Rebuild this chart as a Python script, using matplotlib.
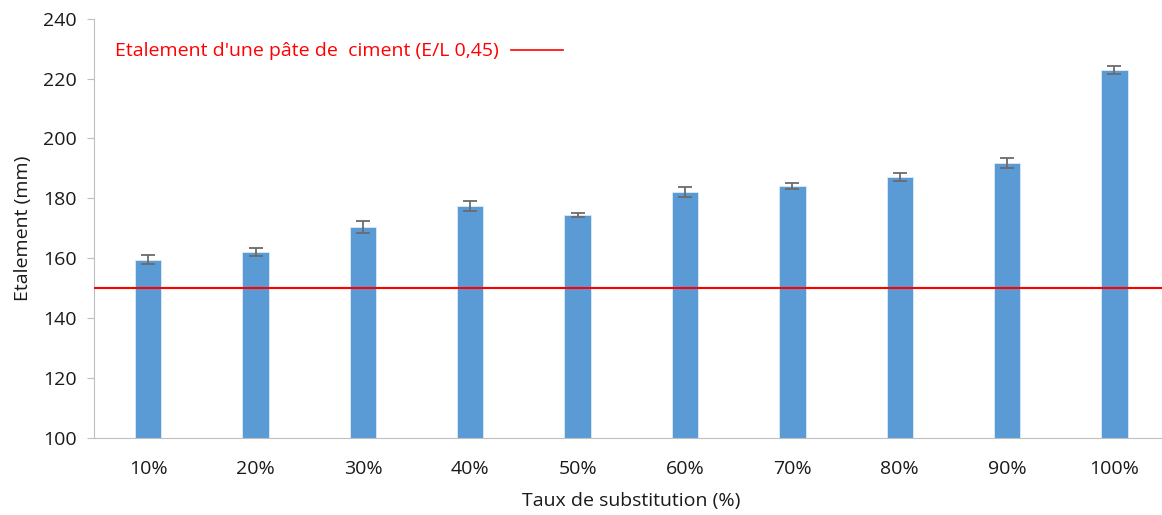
import numpy as np
import matplotlib
matplotlib.use("Agg")
import matplotlib.pyplot as plt
from matplotlib.lines import Line2D

plt.rcParams["font.family"] = ["Open Sans", "DejaVu Sans"]

categories = ["10%", "20%", "30%", "40%", "50%", "60%", "70%", "80%", "90%", "100%"]
etalement = [159.5, 162.0, 170.5, 177.5, 174.5, 182.2, 184.1, 187.2, 191.8, 222.8]
erreur = [1.5, 1.3, 2.0, 1.8, 0.8, 1.7, 1.0, 1.4, 1.8, 1.4]
ref_pate = 150
ref_label = "Etalement d'une pâte de  ciment (E/L 0,45)"

BLUE = "#5B9BD5"
AXIS = "#BFBFBF"
TXT = "#1a1a1a"

fig = plt.figure(figsize=(11.62, 5.15), dpi=100)
ax = fig.add_axes([0.0813, 0.149, 0.924, 0.815])

x = np.arange(len(categories))
ax.bar(x, [v - 100 for v in etalement], bottom=100, width=0.245, color=BLUE,
       edgecolor="#DDEBF7", linewidth=0.6, zorder=2)
ax.errorbar(x, etalement, yerr=erreur, fmt="none", ecolor="#6b6b6b", elinewidth=1.3,
            capsize=5, capthick=1.3, zorder=3)
ax.axhline(ref_pate, color="#FF0000", lw=1.5, zorder=4)

ax.set_xlim(-0.5, len(categories) - 0.5)
ax.set_ylim(100, 240)
ax.set_yticks(range(100, 241, 20))
ax.set_xticks(x)
ax.set_xticklabels(categories)

for s in ("top", "right"):
    ax.spines[s].set_visible(False)
ax.spines["left"].set_color(AXIS)
ax.spines["bottom"].set_color(AXIS)
ax.tick_params(axis="y", colors=AXIS, labelcolor=TXT, labelsize=14, length=5, pad=8)
ax.tick_params(axis="x", length=0, labelcolor=TXT, labelsize=14, pad=16)

ax.set_ylabel("Etalement (mm)", fontsize=14, color=TXT, labelpad=8)
ax.set_xlabel("Taux de substitution (%)", fontsize=14, color=TXT, labelpad=10)

h = Line2D([], [], color="#FF0000", lw=1.2)
leg = ax.legend([h], [ref_label], loc="upper left", bbox_to_anchor=(0.003, 0.985),
                frameon=False, markerfirst=False, fontsize=14, handlelength=2.7,
                handletextpad=0.6)
for t in leg.get_texts():
    t.set_color("#FF0000")

fig.savefig("out.png", dpi=100)
